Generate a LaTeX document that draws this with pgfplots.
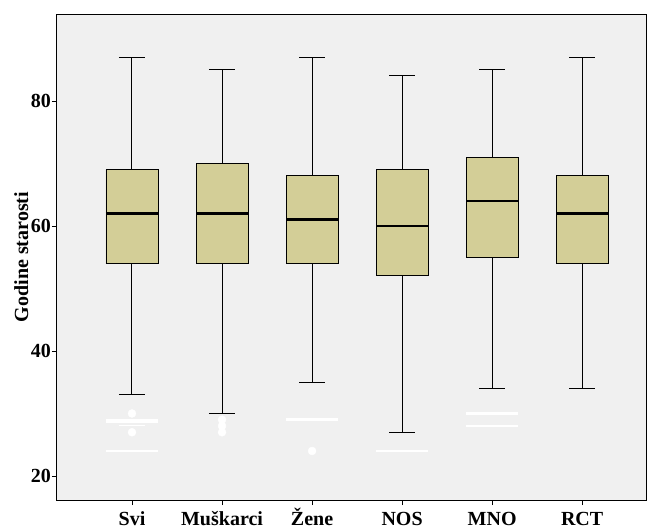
\documentclass[border=0pt]{standalone}
\usepackage{pgfplots}
\pgfplotsset{compat=1.18}
\usepackage{fontspec}
\setmainfont{Liberation Serif}
\definecolor{bg}{RGB}{240,240,240}
\definecolor{boxc}{RGB}{211,206,151}
\begin{document}
\begin{tikzpicture}
\path[use as bounding box] (-57pt,-31pt) rectangle (592pt,500pt);
\begin{axis}[
 at={(0,0)}, anchor=south west,
 scale only axis, width=590pt, height=486pt,
 xmin=0.167, xmax=6.72, ymin=16.16, ymax=93.9,
 axis background/.style={fill=bg},
 axis line style={black, line width=1pt},
 xtick={1,2,3,4,5,6}, xticklabels={Svi,Muškarci,Žene,NOS,MNO,RCT},
 ytick={20,40,60,80},
 tick align=outside, tick pos=left,
 major tick length=5pt,
 tick style={black, line width=0.8pt},
 ticklabel style={font=\bfseries\fontsize{20}{24}\selectfont},
 xticklabel style={text height=18pt, text depth=1pt, inner sep=2pt},
 yticklabel style={inner sep=1pt},
 /pgf/number format/assume math mode=true,
 ylabel={Godine starosti},
 ylabel style={font=\bfseries\fontsize{20}{24}\selectfont, yshift=-2pt},
 unbounded coords=jump,
 clip=false,
 whisk/.style={black, line width=1pt, mark=none},
 bx/.style={fill=boxc, draw=black, line width=0.9pt, mark=none},
 med/.style={black, line width=2.5pt, mark=none},
]
% Svi: 33 / 54 / 62 / 69 / 87
\addplot[whisk] coordinates {(1,69)(1,87) (1,nan) (0.855,87)(1.145,87) (1,nan) (1,54)(1,33) (1,nan) (0.855,33)(1.145,33)};
\addplot[bx] coordinates {(0.711,54)(1.289,54)(1.289,69)(0.711,69)(0.711,54)};
\addplot[med] coordinates {(0.711,62)(1.289,62)};
% Muskarci: 30 / 54 / 62 / 70 / 85
\addplot[whisk] coordinates {(2,70)(2,85) (2,nan) (1.855,85)(2.145,85) (2,nan) (2,54)(2,30) (2,nan) (1.855,30)(2.145,30)};
\addplot[bx] coordinates {(1.711,54)(2.289,54)(2.289,70)(1.711,70)(1.711,54)};
\addplot[med] coordinates {(1.711,62)(2.289,62)};
% Zene: 35 / 54 / 61 / 68 / 87
\addplot[whisk] coordinates {(3,68)(3,87) (3,nan) (2.855,87)(3.145,87) (3,nan) (3,54)(3,35) (3,nan) (2.855,35)(3.145,35)};
\addplot[bx] coordinates {(2.711,54)(3.289,54)(3.289,68)(2.711,68)(2.711,54)};
\addplot[med] coordinates {(2.711,61)(3.289,61)};
% NOS: 27 / 52 / 60 / 69 / 84
\addplot[whisk] coordinates {(4,69)(4,84) (4,nan) (3.855,84)(4.145,84) (4,nan) (4,52)(4,27) (4,nan) (3.855,27)(4.145,27)};
\addplot[bx] coordinates {(3.711,52)(4.289,52)(4.289,69)(3.711,69)(3.711,52)};
\addplot[med] coordinates {(3.711,60)(4.289,60)};
% MNO: 34 / 55 / 64 / 71 / 85
\addplot[whisk] coordinates {(5,71)(5,85) (5,nan) (4.855,85)(5.145,85) (5,nan) (5,55)(5,34) (5,nan) (4.855,34)(5.145,34)};
\addplot[bx] coordinates {(4.711,55)(5.289,55)(5.289,71)(4.711,71)(4.711,55)};
\addplot[med] coordinates {(4.711,64)(5.289,64)};
% RCT: 34 / 54 / 62 / 68 / 87
\addplot[whisk] coordinates {(6,68)(6,87) (6,nan) (5.855,87)(6.145,87) (6,nan) (6,54)(6,34) (6,nan) (5.855,34)(6.145,34)};
\addplot[bx] coordinates {(5.711,54)(6.289,54)(6.289,68)(5.711,68)(5.711,54)};
\addplot[med] coordinates {(5.711,62)(6.289,62)};
% outliers (white)
\addplot[only marks, mark=*, mark size=4pt, mark options={draw=white, fill=white}] coordinates {(1,30) (1,27) (2,29) (2,28) (2,27) (3,24)};
\addplot[only marks, mark=-, mark size=26pt, mark options={draw=white, line width=2.5pt}] coordinates {(1,24) (3,29) (4,24) (5,30) (5,28)};
\addplot[only marks, mark=-, mark size=26pt, mark options={draw=white, line width=4.5pt}] coordinates {(1,28.8)};
\addplot[only marks, mark=-, mark size=13pt, mark options={draw=white, line width=1pt}] coordinates {(1,28)};
\end{axis}
\end{tikzpicture}
\end{document}
